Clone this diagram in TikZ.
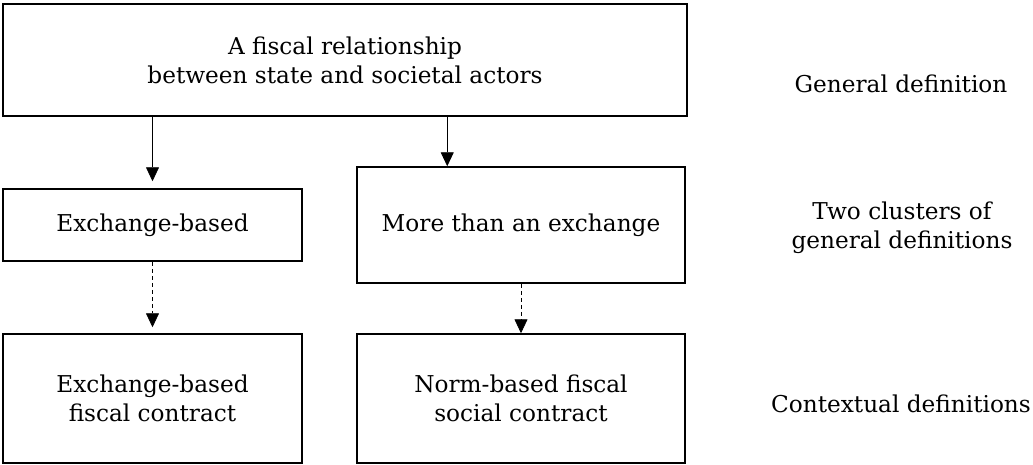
\documentclass[tikz,border=0pt]{standalone}
\usepackage{fontspec}
\setmainfont{DejaVu Serif}
\usetikzlibrary{arrows.meta}

\begin{document}
\begin{tikzpicture}[
  x=1pt, y=-1pt,
  box/.style={draw, line width=1.5pt, inner sep=0pt, align=center,
    font=\fontsize{23.2}{29}\selectfont},
  lbl/.style={align=center, font=\fontsize{23.2}{29}\selectfont},
  arr/.style={-{Triangle[length=14pt, width=13pt]}, line width=0.8pt},
  darr/.style={arr, dash pattern=on 4pt off 3pt},
]
  \useasboundingbox (0,0) rectangle (1033,464);

  % General definition
  \node[box, minimum width=684pt, minimum height=112pt] (top) at (345, 60)
    {A fiscal relationship\\between state and societal actors};

  % Two clusters
  \node[box, minimum width=299pt, minimum height=72pt] (exch) at (152.5, 225)
    {Exchange-based};
  \node[box, minimum width=328pt, minimum height=116pt] (more) at (521, 225)
    {More than an exchange};

  % Contextual definitions
  \node[box, minimum width=299pt, minimum height=129pt] (fiscal) at (152.5, 398.5)
    {Exchange-based\\fiscal contract};
  \node[box, minimum width=328pt, minimum height=129pt] (social) at (521, 398.5)
    {Norm-based fiscal\\social contract};

  % Arrows
  \coordinate (moretop) at ([xshift=91pt]more.north west);
  \draw[arr, shorten >=7pt] (top.south -| exch.north) -- (exch.north);
  \draw[arr] (top.south -| moretop) -- (moretop);
  \draw[darr, shorten >=6pt] (exch.south) -- (fiscal.north);
  \draw[darr] (more.south) -- (social.north);

  % Levels
  \node[lbl] (lvlgen) at (901, 84) {General definition};
  \node[lbl] (lvltwo) at (902, 228) {Two clusters of\\general definitions};
  \node[lbl] (lvlctx) at (901, 404) {Contextual definitions};

\end{tikzpicture}
\end{document}
